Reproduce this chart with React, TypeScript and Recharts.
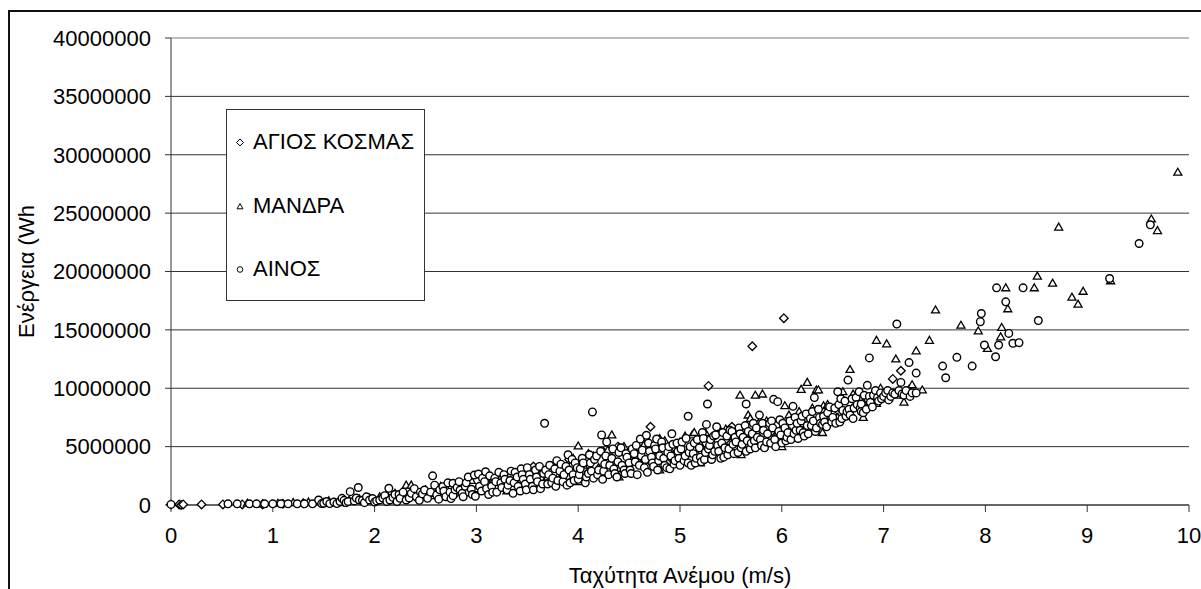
import { ScatterChart, Scatter, XAxis, YAxis, CartesianGrid, Legend, ReferenceLine } from 'recharts';

// [wind speed m/s, energy in MWh (Wh / 1e6)]
const agiosKosmas: [number, number][] = [
  [0.0, 0.05], [0.08, 0.05], [0.1, 0.0], [0.12, 0.05], [0.3, 0.05], [0.51, 0.05],
  [0.7, 0.05], [0.9, 0.05], [1.1, 0.1], [1.3, 0.15], [1.5, 0.2], [1.7, 0.25],
  [1.9, 0.35], [2.1, 0.45], [2.2, 0.5], [2.3, 0.6], [2.4, 0.7], [2.5, 0.75],
  [2.6, 0.8], [2.7, 0.9], [2.8, 1.0], [2.9, 1.1], [3.0, 1.2], [3.1, 1.3],
  [3.2, 1.4], [3.3, 1.6], [3.4, 1.7], [3.5, 1.9], [3.56, 3.3], [3.6, 2.0],
  [3.7, 2.2], [3.8, 2.3], [3.9, 2.5], [3.91, 3.9], [4.0, 2.6], [4.1, 2.8],
  [4.2, 2.9], [4.3, 3.1], [4.39, 5.0], [4.4, 3.2], [4.5, 3.4], [4.6, 3.6],
  [4.7, 3.8], [4.71, 6.7], [4.8, 3.9], [4.9, 4.1], [5.0, 4.3], [5.1, 4.5],
  [5.2, 4.7], [5.28, 10.2], [5.3, 4.9], [5.4, 5.1], [5.5, 5.3], [5.51, 6.7],
  [5.6, 5.5], [5.7, 5.8], [5.71, 13.6], [5.8, 6.0], [5.9, 6.3], [6.0, 6.5],
  [6.02, 16.0], [6.1, 6.8], [6.2, 7.0], [6.3, 7.3], [6.4, 7.5], [6.5, 7.8],
  [6.6, 8.0], [6.7, 8.3], [6.8, 8.6], [6.9, 8.9], [7.0, 9.2], [7.09, 10.8],
  [7.17, 11.5],
];

const mandra: [number, number][] = [
  [0.75, 0.15], [0.9, 0.1], [1.05, 0.15], [1.2, 0.2], [1.35, 0.25], [1.45, 0.3],
  [1.55, 0.35], [1.65, 0.2], [1.75, 0.4], [1.85, 0.5], [1.95, 0.6], [2.05, 0.7],
  [2.12, 0.9], [2.2, 1.0], [2.31, 1.7], [2.36, 1.7], [2.42, 1.1], [2.5, 1.3],
  [2.55, 0.8], [2.6, 1.0], [2.65, 1.6], [2.7, 1.5], [2.75, 1.0], [2.8, 1.2],
  [2.85, 1.8], [2.9, 1.7], [2.95, 2.1], [3.0, 1.4], [3.1, 2.2], [3.15, 2.4],
  [3.25, 2.65], [3.3, 1.2], [3.4, 2.5], [3.45, 3.0], [3.5, 2.9], [3.55, 2.1],
  [3.6, 3.1], [3.6, 1.5], [3.7, 2.4], [3.75, 3.3], [3.8, 3.6], [3.85, 2.7],
  [3.9, 3.2], [3.95, 4.0], [4.0, 5.05], [4.0, 2.0], [4.05, 3.4], [4.1, 4.4],
  [4.15, 4.2], [4.2, 3.2], [4.25, 4.6], [4.29, 4.7], [4.33, 6.0], [4.4, 4.9],
  [4.4, 2.4], [4.45, 5.0], [4.5, 4.3], [4.55, 3.9], [4.6, 4.9], [4.65, 5.2],
  [4.7, 5.3], [4.75, 4.2], [4.8, 5.7], [4.8, 3.0], [4.85, 5.5], [4.9, 4.8],
  [4.95, 4.4], [5.0, 5.4], [5.05, 5.9], [5.12, 6.0], [5.14, 6.2], [5.2, 5.2],
  [5.2, 3.6], [5.25, 6.2], [5.3, 5.7], [5.35, 4.9], [5.4, 6.3], [5.45, 6.5],
  [5.5, 5.9], [5.55, 5.0], [5.59, 9.4], [5.6, 4.3], [5.65, 6.7], [5.67, 7.7],
  [5.69, 7.4], [5.74, 9.4], [5.77, 7.0], [5.81, 9.5], [5.85, 7.2], [5.9, 6.6],
  [5.95, 6.0], [6.0, 5.0], [6.03, 8.5], [6.07, 7.7], [6.1, 7.4], [6.17, 8.0],
  [6.19, 9.9], [6.25, 10.5], [6.3, 8.3], [6.34, 9.85], [6.36, 9.85], [6.4, 6.2],
  [6.41, 8.5], [6.45, 8.6], [6.48, 7.6], [6.55, 7.5], [6.6, 9.7], [6.67, 11.6],
  [6.7, 9.5], [6.8, 8.8], [6.8, 7.5], [6.9, 9.6], [6.93, 8.7], [6.93, 14.1],
  [6.97, 10.0], [7.03, 13.8], [7.05, 9.2], [7.12, 12.5], [7.15, 9.4], [7.2, 8.8],
  [7.25, 9.9], [7.28, 10.3], [7.32, 13.2], [7.38, 9.85], [7.45, 14.1], [7.51, 16.7],
  [7.76, 15.4], [7.93, 14.9], [8.02, 13.4], [8.15, 14.4], [8.16, 15.2], [8.2, 18.6],
  [8.22, 16.8], [8.48, 18.6], [8.51, 19.6], [8.66, 19.0], [8.72, 23.8], [8.85, 17.8],
  [8.91, 17.2], [8.96, 18.3], [9.23, 19.2], [9.63, 24.5], [9.69, 23.5], [9.89, 28.5],
];

const ainos: [number, number][] = [
  [0.0, 0.05], [0.56, 0.1], [0.65, 0.1], [0.77, 0.1], [0.84, 0.1], [0.92, 0.1],
  [1.0, 0.1], [1.08, 0.1], [1.15, 0.1], [1.24, 0.1], [1.31, 0.1], [1.39, 0.1],
  [1.45, 0.43], [1.48, 0.12], [1.5, 0.15], [1.53, 0.3], [1.56, 0.12], [1.6, 0.25],
  [1.63, 0.12], [1.66, 0.3], [1.68, 0.57], [1.7, 0.4], [1.72, 0.2], [1.74, 0.3],
  [1.76, 1.14], [1.8, 0.35], [1.82, 0.6], [1.84, 1.5], [1.85, 0.43], [1.88, 0.4],
  [1.9, 0.2], [1.92, 0.7], [1.95, 0.43], [1.98, 0.55], [2.0, 0.25], [2.02, 0.35],
  [2.05, 0.43], [2.08, 0.6], [2.1, 0.8], [2.12, 0.3], [2.14, 1.43], [2.15, 0.43],
  [2.18, 0.65], [2.2, 0.9], [2.22, 0.3], [2.24, 0.9], [2.25, 0.57], [2.28, 1.1],
  [2.31, 0.43], [2.34, 0.6], [2.36, 1.0], [2.39, 1.4], [2.41, 0.71], [2.44, 0.4],
  [2.45, 1.1], [2.47, 0.95], [2.49, 1.28], [2.52, 0.57], [2.55, 1.1], [2.57, 2.5],
  [2.59, 1.7], [2.61, 0.86], [2.63, 0.5], [2.64, 1.3], [2.67, 1.57], [2.68, 1.2],
  [2.7, 0.71], [2.72, 1.9], [2.74, 1.1], [2.75, 0.55], [2.77, 1.86], [2.77, 0.8],
  [2.79, 1.3], [2.81, 1.5], [2.83, 2.0], [2.84, 1.28], [2.86, 1.0], [2.87, 0.71],
  [2.89, 1.6], [2.9, 1.9], [2.92, 2.4], [2.93, 1.1], [2.95, 1.35], [2.96, 0.9],
  [2.98, 2.57], [2.99, 0.75],
  [3.02, 2.65], [3.03, 1.6], [3.05, 1.2], [3.06, 2.3], [3.08, 2.0], [3.09, 2.85],
  [3.1, 1.4], [3.12, 0.9], [3.13, 2.5], [3.15, 1.6], [3.16, 1.1], [3.18, 2.3],
  [3.19, 2.0], [3.2, 1.1], [3.22, 2.8], [3.24, 1.9], [3.25, 1.5], [3.27, 2.6],
  [3.28, 2.2], [3.3, 1.3], [3.31, 1.7], [3.33, 2.1], [3.34, 2.9], [3.36, 1.0],
  [3.37, 1.9], [3.38, 2.8], [3.4, 2.4], [3.41, 1.6], [3.43, 1.2], [3.44, 3.1],
  [3.45, 2.6], [3.46, 2.2], [3.48, 1.8], [3.49, 1.3], [3.5, 3.2], [3.52, 2.6],
  [3.53, 2.2], [3.55, 1.6], [3.56, 1.3], [3.58, 3.0], [3.59, 2.4], [3.6, 2.0],
  [3.62, 3.3], [3.63, 1.4], [3.65, 1.8], [3.66, 2.7], [3.67, 7.0], [3.68, 3.0],
  [3.7, 1.8], [3.71, 2.6], [3.72, 3.4], [3.74, 1.9], [3.75, 2.3], [3.77, 3.1],
  [3.78, 1.6], [3.79, 3.8], [3.8, 2.1], [3.82, 2.9], [3.83, 3.5], [3.85, 2.0],
  [3.86, 2.6], [3.88, 3.3], [3.89, 1.7], [3.9, 4.3], [3.91, 3.0], [3.92, 1.9],
  [3.94, 3.9], [3.95, 2.6], [3.96, 2.1], [3.97, 3.6], [3.99, 3.2], [4.0, 2.2],
  [4.01, 2.6], [4.02, 3.1], [4.04, 4.0], [4.05, 3.6], [4.07, 1.9], [4.08, 2.4],
  [4.1, 2.7], [4.11, 4.3], [4.12, 3.6], [4.13, 2.9], [4.14, 7.97], [4.15, 2.3],
  [4.16, 3.9], [4.18, 4.2], [4.19, 2.6], [4.2, 3.0], [4.22, 4.6], [4.23, 6.0],
  [4.24, 2.2], [4.25, 2.9], [4.26, 3.5], [4.27, 4.2], [4.28, 5.4], [4.3, 2.6],
  [4.31, 3.4], [4.33, 4.0], [4.34, 4.8], [4.35, 3.1], [4.36, 2.7], [4.38, 2.4],
  [4.39, 3.7], [4.4, 4.5], [4.42, 4.9], [4.43, 3.4], [4.45, 3.0], [4.46, 2.7],
  [4.47, 4.4], [4.48, 4.1], [4.5, 3.6], [4.51, 3.0], [4.52, 2.7], [4.53, 4.8],
  [4.55, 4.4], [4.56, 3.7], [4.57, 5.1], [4.58, 2.6], [4.6, 3.4], [4.61, 5.65],
  [4.62, 4.2], [4.63, 4.7], [4.65, 3.2], [4.66, 3.9], [4.67, 5.97], [4.68, 2.8],
  [4.69, 5.3], [4.7, 4.6], [4.72, 4.1], [4.73, 3.6], [4.74, 3.3], [4.75, 5.1],
  [4.76, 4.8], [4.77, 5.65], [4.78, 3.0], [4.79, 3.8], [4.8, 4.2], [4.82, 5.4],
  [4.83, 4.9], [4.84, 4.0], [4.85, 3.4], [4.87, 3.2], [4.88, 4.5], [4.89, 5.0],
  [4.9, 3.1], [4.91, 4.2], [4.92, 6.1], [4.93, 5.2], [4.94, 3.5], [4.95, 3.8],
  [4.97, 5.3], [4.98, 4.6], [4.99, 4.0],
  [5.0, 3.4], [5.01, 4.8], [5.02, 5.4], [5.04, 3.8], [5.05, 4.2], [5.06, 5.7],
  [5.08, 7.6], [5.08, 3.6], [5.09, 4.5], [5.1, 5.0], [5.11, 3.4], [5.13, 4.4],
  [5.14, 5.3], [5.15, 3.6], [5.16, 4.0], [5.17, 5.6], [5.19, 4.9], [5.2, 4.1],
  [5.21, 3.7], [5.22, 6.2], [5.23, 5.7], [5.24, 3.9], [5.25, 4.5], [5.26, 6.9],
  [5.27, 8.65], [5.28, 4.8], [5.29, 5.1], [5.3, 5.6], [5.31, 3.9], [5.32, 4.3],
  [5.33, 5.9], [5.34, 4.6], [5.35, 6.0], [5.36, 6.7], [5.37, 5.1], [5.38, 4.6],
  [5.4, 4.0], [5.41, 5.3], [5.42, 6.2], [5.43, 4.1], [5.44, 4.9], [5.46, 5.9],
  [5.47, 4.3], [5.48, 4.8], [5.49, 6.4], [5.51, 6.3], [5.52, 5.2], [5.53, 4.4],
  [5.54, 5.8], [5.55, 5.4], [5.57, 4.5], [5.58, 6.6], [5.59, 6.1], [5.6, 4.9],
  [5.61, 5.2], [5.62, 5.8], [5.64, 6.8], [5.65, 8.65], [5.65, 4.6], [5.66, 5.5],
  [5.67, 6.3], [5.69, 4.8], [5.7, 5.3], [5.71, 6.1], [5.72, 7.0], [5.73, 5.5],
  [5.74, 4.9], [5.75, 6.6], [5.76, 5.8], [5.78, 7.7], [5.79, 5.6], [5.8, 5.1],
  [5.81, 7.0], [5.82, 6.4], [5.83, 4.9], [5.85, 5.4], [5.86, 6.1], [5.88, 7.0],
  [5.89, 5.3], [5.9, 7.2], [5.91, 6.6], [5.92, 9.05], [5.93, 5.6], [5.94, 5.0],
  [5.96, 8.85], [5.97, 6.3], [5.98, 7.3], [5.99, 6.0],
  [6.0, 5.3], [6.01, 7.0], [6.03, 6.6], [6.04, 5.5], [6.05, 5.8], [6.06, 6.2],
  [6.08, 7.2], [6.09, 5.6], [6.11, 8.45], [6.12, 6.1], [6.13, 7.5], [6.14, 6.4],
  [6.15, 7.0], [6.16, 5.7], [6.18, 6.4], [6.19, 7.2], [6.2, 7.6], [6.21, 6.2],
  [6.22, 5.9], [6.24, 7.8], [6.25, 6.8], [6.26, 6.1], [6.28, 7.4], [6.29, 6.8],
  [6.3, 8.0], [6.31, 7.2], [6.32, 9.2], [6.33, 6.3], [6.34, 6.6], [6.36, 8.2],
  [6.37, 7.5], [6.38, 7.0], [6.4, 6.9], [6.41, 7.6], [6.42, 7.1], [6.44, 6.7],
  [6.45, 7.9], [6.47, 8.4], [6.49, 7.1], [6.5, 7.5], [6.52, 8.3], [6.53, 7.0],
  [6.55, 9.7], [6.56, 8.6], [6.57, 7.1], [6.58, 9.1], [6.59, 7.4], [6.6, 8.1],
  [6.62, 8.9], [6.63, 7.6], [6.64, 8.0], [6.65, 10.7], [6.66, 8.2], [6.67, 7.7],
  [6.69, 9.1], [6.7, 7.4], [6.71, 8.3], [6.73, 9.2], [6.74, 8.6], [6.76, 9.7],
  [6.77, 8.3], [6.78, 8.65], [6.78, 8.0], [6.8, 7.9], [6.81, 9.4], [6.83, 8.2],
  [6.84, 10.25], [6.86, 12.6], [6.86, 9.3], [6.87, 8.8], [6.89, 8.4], [6.9, 9.4],
  [6.92, 9.8], [6.94, 9.2], [6.95, 8.9], [6.97, 9.6], [6.98, 9.1], [7.0, 9.3],
  [7.02, 9.6], [7.04, 9.8], [7.05, 9.0], [7.07, 9.3], [7.09, 9.6], [7.11, 9.5],
  [7.13, 15.5], [7.15, 9.8], [7.17, 10.5], [7.18, 9.5], [7.2, 9.4], [7.22, 9.8],
  [7.25, 12.2], [7.26, 9.3], [7.28, 9.6], [7.32, 11.3], [7.32, 9.6],
  [7.58, 11.9], [7.61, 10.9], [7.72, 12.65], [7.87, 11.9], [7.95, 15.7], [7.96, 16.4],
  [7.99, 13.7], [8.1, 12.7], [8.11, 18.6], [8.13, 13.7], [8.2, 17.4], [8.23, 14.7],
  [8.27, 13.85], [8.33, 13.9], [8.37, 18.6], [8.52, 15.8], [9.22, 19.4], [9.51, 22.4],
  [9.62, 24.0],
];

const xTicks = [0, 1, 2, 3, 4, 5, 6, 7, 8, 9, 10];
const yTicks = [0, 5000000, 10000000, 15000000, 20000000, 25000000, 30000000, 35000000, 40000000];

const seriesNames = ['ΑΓΙΟΣ ΚΟΣΜΑΣ', 'ΜΑΝΔΡΑ', 'ΑΙΝΟΣ'];

const toPoints = (rows: [number, number][]) =>
  rows.map(([speed, mwh]) => ({ speed, energy: mwh * 1e6 }));

const FONT = '"Liberation Sans", Arial, sans-serif';

const DiamondDot = (p: any) => (
  <path
    d={`M${p.cx},${p.cy - 4.3} L${p.cx + 4.3},${p.cy} L${p.cx},${p.cy + 4.3} L${p.cx - 4.3},${p.cy} Z`}
    fill="#fff"
    stroke="#000"
    strokeWidth={1.3}
  />
);

const TriangleDot = (p: any) => (
  <path
    d={`M${p.cx},${p.cy - 4} L${p.cx + 4},${p.cy + 2.9} L${p.cx - 4},${p.cy + 2.9} Z`}
    fill="#fff"
    stroke="#000"
    strokeWidth={1.3}
  />
);

const CircleDot = (p: any) => <circle cx={p.cx} cy={p.cy} r={3.8} fill="#fff" stroke="#000" strokeWidth={1.4} />;

function legendMarker(i: number) {
  if (i === 0) return <path d="M7,3 L10.5,6.5 L7,10 L3.5,6.5 Z" fill="#fff" stroke="#000" strokeWidth={1} />;
  if (i === 1) return <path d="M7,3.5 L10,8.8 L4,8.8 Z" fill="#fff" stroke="#000" strokeWidth={1} />;
  return <circle cx={7} cy={6.5} r={2.8} fill="#fff" stroke="#000" strokeWidth={1} />;
}

function LegendBox() {
  const rowsY = [32, 96, 159];
  return (
    <div
      style={{
        position: 'relative',
        width: 199,
        height: 192,
        boxSizing: 'border-box',
        border: '1px solid #333',
        background: '#fff',
        fontFamily: FONT,
        fontSize: 22,
        color: '#000',
      }}
    >
      {seriesNames.map((name, i) => (
        <div key={name} style={{ position: 'absolute', left: 6, top: rowsY[i] - 13, height: 26, display: 'flex', alignItems: 'center', whiteSpace: 'nowrap' }}>
          <svg width={14} height={13} style={{ marginRight: 6 }}>
            {legendMarker(i)}
          </svg>
          <span>{name}</span>
        </div>
      ))}
    </div>
  );
}

export default function App() {
  return (
    <div style={{ position: 'absolute', left: 0, top: 0, width: 1201, height: 589, overflow: 'hidden', background: '#fff' }}>
      <div style={{ position: 'absolute', left: 8, top: 10, width: 1400, height: 800, border: '2px solid #111' }} />
      <div style={{ position: 'absolute', left: 0, top: 0 }}>
        <ScatterChart width={1201} height={589} margin={{ top: 38, right: 12, left: 0, bottom: 0 }}>
          <CartesianGrid vertical={false} stroke="#333" strokeWidth={1} />
          <ReferenceLine y={40000000} stroke="#c8c8c8" strokeWidth={1.5} />
          <XAxis
            type="number"
            dataKey="speed"
            domain={[0, 10]}
            ticks={xTicks}
            height={84}
            tickSize={7}
            tickMargin={15}
            axisLine={{ stroke: '#333' }}
            tickLine={{ stroke: '#333' }}
            tick={{ fill: '#000', fontSize: 22, fontFamily: FONT }}
            label={{ value: 'Ταχύτητα Ανέμου (m/s)', position: 'insideBottom', offset: 6, fill: '#000', fontSize: 22, fontFamily: FONT }}
          />
          <YAxis
            type="number"
            dataKey="energy"
            domain={[0, 40000000]}
            ticks={yTicks}
            width={171}
            tickSize={6}
            tickMargin={14}
            axisLine={{ stroke: '#333' }}
            tickLine={{ stroke: '#333' }}
            tick={{ fill: '#000', fontSize: 22, fontFamily: FONT }}
            tickFormatter={(v: number) => String(v)}
            label={{
              value: 'Ενέργεια (Wh',
              angle: -90,
              position: 'insideLeft',
              offset: 26,
              fill: '#000',
              fontSize: 22,
              fontFamily: FONT,
              style: { textAnchor: 'middle' },
            }}
          />
          <Legend
            layout="vertical"
            align="center"
            verticalAlign="middle"
            wrapperStyle={{ left: 226, top: 109, width: 199, height: 192 }}
            content={() => <LegendBox />}
          />
          <Scatter name={seriesNames[0]} data={toPoints(agiosKosmas)} shape={DiamondDot} isAnimationActive={false} />
          <Scatter name={seriesNames[1]} data={toPoints(mandra)} shape={TriangleDot} isAnimationActive={false} />
          <Scatter name={seriesNames[2]} data={toPoints(ainos)} shape={CircleDot} isAnimationActive={false} />
        </ScatterChart>
      </div>
    </div>
  );
}
